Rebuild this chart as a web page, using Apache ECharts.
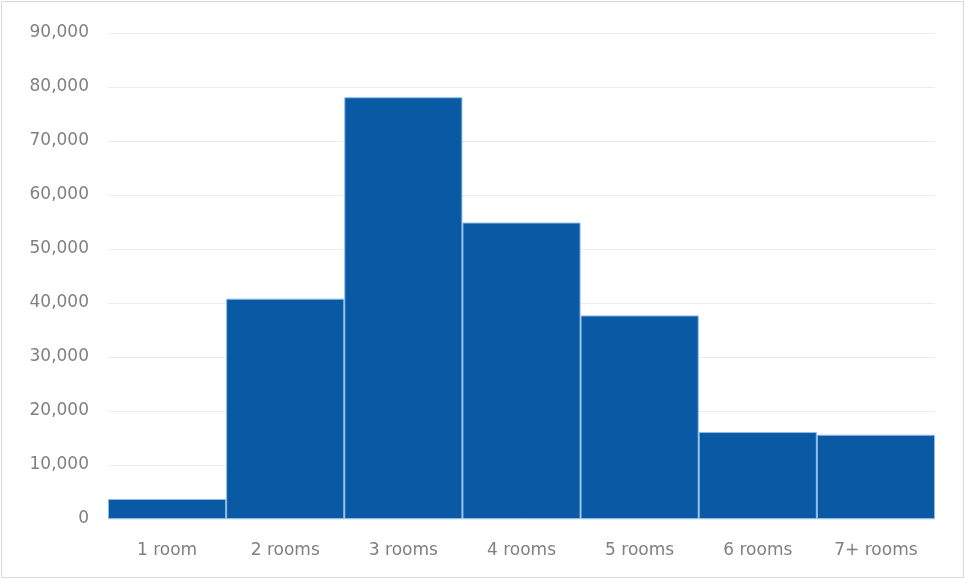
<!DOCTYPE html>
<html>
<head>
<meta charset="utf-8">
<script src="https://cdn.jsdelivr.net/npm/echarts@6/dist/echarts.min.js"></script>
<style>
html,body{margin:0;padding:0;background:#fff;}
#c{width:961px;height:575px;border:1px solid #d9d9d9;margin:1px;}
</style>
</head>
<body>
<div id="c"></div>
<script>
const categories = ['1 room','2 rooms','3 rooms','4 rooms','5 rooms','6 rooms','7+ rooms'];
const values = [3700, 40800, 78100, 54900, 37700, 16100, 15600];
const yTicks = [0,10000,20000,30000,40000,50000,60000,70000,80000,90000];

const chart = echarts.init(document.getElementById('c'), null, {renderer:'canvas'});
chart.setOption({
  animation:false,
  grid:{left:106, right:28, top:31, bottom:58},
  xAxis:{
    type:'category',
    data:categories,
    axisLine:{show:false},
    axisTick:{show:false},
    axisLabel:{color:'#808080', fontSize:17, fontFamily:'"DejaVu Sans", sans-serif', margin:23}
  },
  yAxis:{
    type:'value',
    min:yTicks[0], max:yTicks[yTicks.length-1], interval:10000,
    axisLine:{show:false},
    axisTick:{show:false},
    splitLine:{lineStyle:{color:'#ececec', width:1}},
    axisLabel:{color:'#808080', fontSize:17, margin:19, fontFamily:'"DejaVu Sans", sans-serif',
      formatter:v=>v.toLocaleString('en-US')}
  },
  series:[{
    type:'bar',
    data:values,
    barCategoryGap:'0%',
    itemStyle:{color:'#0959a4', borderColor:'#8dbbe6', borderWidth:1}
  }]
});
</script>
</body>
</html>
